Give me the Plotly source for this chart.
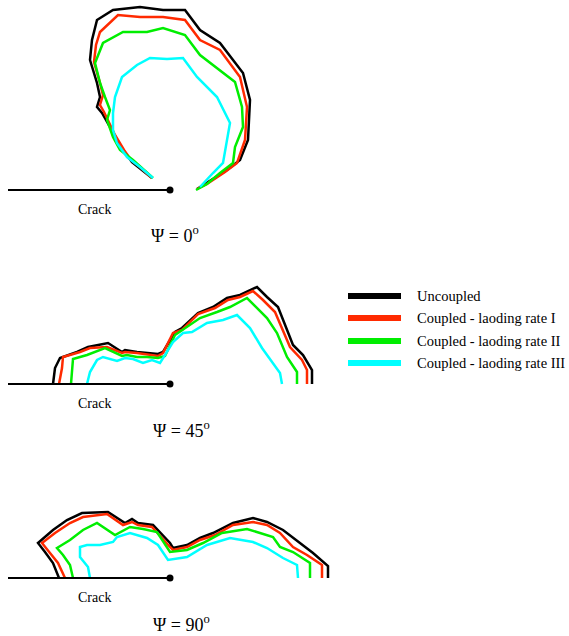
import plotly.graph_objects as go

W, H = 569, 636

SERIES = ["Uncoupled", "Coupled - laoding rate I",
          "Coupled - laoding rate II", "Coupled - laoding rate III"]
COLORS = ["#000000", "#ff2a00", "#00ee00", "#00ffff"]
PSI_LABELS = ["0", "45", "90"]
CRACK_LENGTH = 162

# Plastic-zone contours, coordinates relative to the crack tip (x right, y up)
PSI0_UNCOUPLED = [(-18, 12), (-30, 22), (-38, 28), (-47, 40), (-57, 57), (-64, 70), (-68, 77),
                  (-73, 83), (-70, 93), (-73, 107), (-80, 130), (-78, 150), (-73, 170), (-57, 180),
                  (-30, 183), (-7, 180), (15, 180), (30, 160), (50, 147), (73, 117), (80, 90),
                  (78, 50), (70, 30), (57, 20), (37, 7), (27, 1)]
PSI0_RATE_I = [(-18, 12), (-30, 23), (-39, 30), (-46, 40), (-55, 55), (-62, 70), (-66, 78),
               (-70, 85), (-67, 95), (-70, 107), (-76, 128), (-74, 145), (-70, 158), (-52, 175),
               (-30, 173), (-7, 173), (15, 170), (30, 150), (50, 140), (70, 113), (77, 83),
               (75, 50), (67, 27), (55, 18), (37, 6), (27, 1)]
PSI0_RATE_II = [(-17, 12), (-28, 22), (-37, 30), (-50, 40), (-57, 53), (-63, 70), (-60, 80),
                (-65, 93), (-70, 107), (-75, 127), (-67, 147), (-47, 158), (-23, 158), (-7, 162),
                (15, 155), (30, 135), (53, 117), (65, 108), (72, 83), (73, 63), (65, 43),
                (63, 27), (50, 17), (37, 6), (26, 0)]
PSI0_RATE_III = [(-17, 12), (-30, 23), (-43, 33), (-53, 47), (-57, 60), (-57, 77), (-55, 93),
                 (-48, 113), (-33, 125), (-20, 132), (-3, 131), (13, 132), (27, 113), (47, 93),
                 (60, 67), (57, 50), (53, 27), (43, 17), (30, 3)]

PSI45_UNCOUPLED = [(-117, 0), (-115, 16), (-110, 26), (-93, 32), (-82, 37), (-62, 41), (-48, 32),
                   (-45, 34), (-33, 32), (-22, 31), (-12, 30), (-7, 32), (5, 52), (12, 56),
                   (28, 71), (43, 77), (57, 86), (70, 89), (87, 97), (97, 87), (108, 77),
                   (123, 39), (133, 29), (142, 14), (142, 0)]
PSI45_RATE_I = [(-111, 0), (-108, 16), (-107, 27), (-90, 32), (-80, 36), (-63, 37), (-48, 31),
                (-45, 32), (-33, 31), (-20, 29), (-12, 28), (-7, 31), (3, 51), (12, 54),
                (28, 70), (45, 76), (58, 84), (70, 87), (83, 93), (93, 84), (105, 72),
                (120, 37), (132, 24), (137, 14), (137, 0)]
PSI45_RATE_II = [(-99, 0), (-97, 25), (-83, 29), (-65, 36), (-48, 28), (-43, 29), (-33, 27),
                 (-23, 27), (-12, 26), (-5, 28), (5, 49), (30, 66), (47, 72), (60, 77),
                 (77, 86), (97, 66), (107, 51), (117, 27), (127, 12), (127, 0)]
PSI45_RATE_III = [(-83, 0), (-80, 12), (-73, 24), (-67, 27), (-53, 23), (-45, 26), (-37, 25),
                  (-27, 21), (-18, 24), (-10, 21), (3, 42), (13, 51), (22, 52), (37, 61),
                  (53, 64), (67, 69), (80, 56), (92, 36), (110, 11), (112, 0)]

PSI90_UNCOUPLED = [(-111, 0), (-117, 15), (-125, 26), (-132, 35), (-117, 48), (-103, 58),
                   (-88, 65), (-62, 66), (-45, 55), (-38, 59), (-32, 55), (-17, 53), (0, 35),
                   (3, 30), (17, 33), (30, 40), (43, 45), (63, 55), (83, 60), (97, 56),
                   (113, 48), (130, 35), (143, 25), (158, 12), (158, 0)]
PSI90_RATE_I = [(-105, 0), (-112, 15), (-120, 25), (-128, 35), (-115, 45), (-100, 55),
                (-87, 61), (-63, 64), (-47, 53), (-38, 56), (-32, 53), (-18, 51), (0, 31),
                (3, 28), (17, 31), (30, 38), (45, 43), (63, 53), (83, 56), (97, 53),
                (110, 45), (123, 31), (137, 23), (152, 13), (152, 0)]
PSI90_RATE_II = [(-97, 0), (-100, 13), (-107, 23), (-113, 30), (-100, 38), (-87, 48), (-73, 55),
                 (-55, 43), (-40, 51), (-27, 49), (-13, 46), (0, 26), (17, 28), (33, 35),
                 (52, 45), (77, 49), (103, 41), (110, 31), (123, 26), (140, 15), (140, 0)]
PSI90_RATE_III = [(-80, 0), (-82, 11), (-90, 21), (-90, 31), (-83, 33), (-70, 33), (-57, 36),
                  (-53, 41), (-40, 45), (-23, 40), (-12, 33), (-2, 18), (17, 21), (37, 33),
                  (60, 40), (83, 36), (97, 30), (113, 20), (127, 13), (128, 0)]

PANELS = [
    [PSI0_UNCOUPLED, PSI0_RATE_I, PSI0_RATE_II, PSI0_RATE_III],
    [PSI45_UNCOUPLED, PSI45_RATE_I, PSI45_RATE_II, PSI45_RATE_III],
    [PSI90_UNCOUPLED, PSI90_RATE_I, PSI90_RATE_II, PSI90_RATE_III],
]

# pixel bands (top, bottom, crack-tip row) of each panel inside the page
BANDS = [(0, 250, 190), (255, 450, 384), (455, 636, 578)]
TIP_X = 170
PSI_POS = [(5, -44.5), (11, -45.5), (11, -45.5)]

fig = go.Figure()
SERIF = "Liberation Serif"

for p, (curves, (top, bottom, tip)) in enumerate(zip(PANELS, BANDS)):
    sfx = "" if p == 0 else str(p + 1)
    xa, ya = "x" + sfx, "y" + sfx
    for s, pts in enumerate(curves):
        fig.add_trace(go.Scatter(
            x=[q[0] for q in pts], y=[q[1] for q in pts], mode="lines",
            line=dict(color=COLORS[s], width=2.5), name=SERIES[s],
            showlegend=False, xaxis=xa, yaxis=ya, hoverinfo="skip"))
    # crack faces and tip
    fig.add_trace(go.Scatter(
        x=[-CRACK_LENGTH, 0], y=[0, 0], mode="lines",
        line=dict(color="black", width=2), showlegend=False,
        xaxis=xa, yaxis=ya, hoverinfo="skip"))
    fig.add_trace(go.Scatter(
        x=[0], y=[0], mode="markers", marker=dict(color="black", size=7),
        showlegend=False, xaxis=xa, yaxis=ya, hoverinfo="skip"))
    fig.add_annotation(x=-76, y=-19, xref=xa, yref=ya, text="Crack",
                       showarrow=False, font=dict(family=SERIF, size=14, color="black"))
    fig.add_annotation(x=PSI_POS[p][0], y=PSI_POS[p][1], xref=xa, yref=ya,
                       text="Ψ = " + PSI_LABELS[p] + "<sup>o</sup>",
                       showarrow=False, font=dict(family=SERIF, size=18, color="black"))

    ax = dict(visible=False, range=[-TIP_X, W - TIP_X], domain=[0, 1], fixedrange=True)
    ay = dict(visible=False, range=[tip - bottom, tip - top],
              domain=[1 - bottom / H, 1 - top / H], fixedrange=True)
    if p > 0:
        ax["anchor"] = ya
        ay["anchor"] = xa
    fig.layout["xaxis" + sfx] = ax
    fig.layout["yaxis" + sfx] = ay

# legend drawn as line swatches with labels
LEG_ROWS = [296, 318, 341, 363]
for s, row in enumerate(LEG_ROWS):
    yp = 1 - row / H
    fig.add_shape(type="line", xref="paper", yref="paper",
                  x0=348 / W, x1=401 / W, y0=yp, y1=yp,
                  line=dict(color=COLORS[s], width=6))
    fig.add_annotation(xref="paper", yref="paper", x=415 / W, y=yp, text=SERIES[s],
                       xanchor="left", yanchor="middle", showarrow=False,
                       font=dict(family=SERIF, size=14.5, color="black"))

fig.update_layout(width=W, height=H, autosize=False,
                  margin=dict(l=0, r=0, t=0, b=0),
                  paper_bgcolor="white", plot_bgcolor="white")

fig.write_html("out.html")
